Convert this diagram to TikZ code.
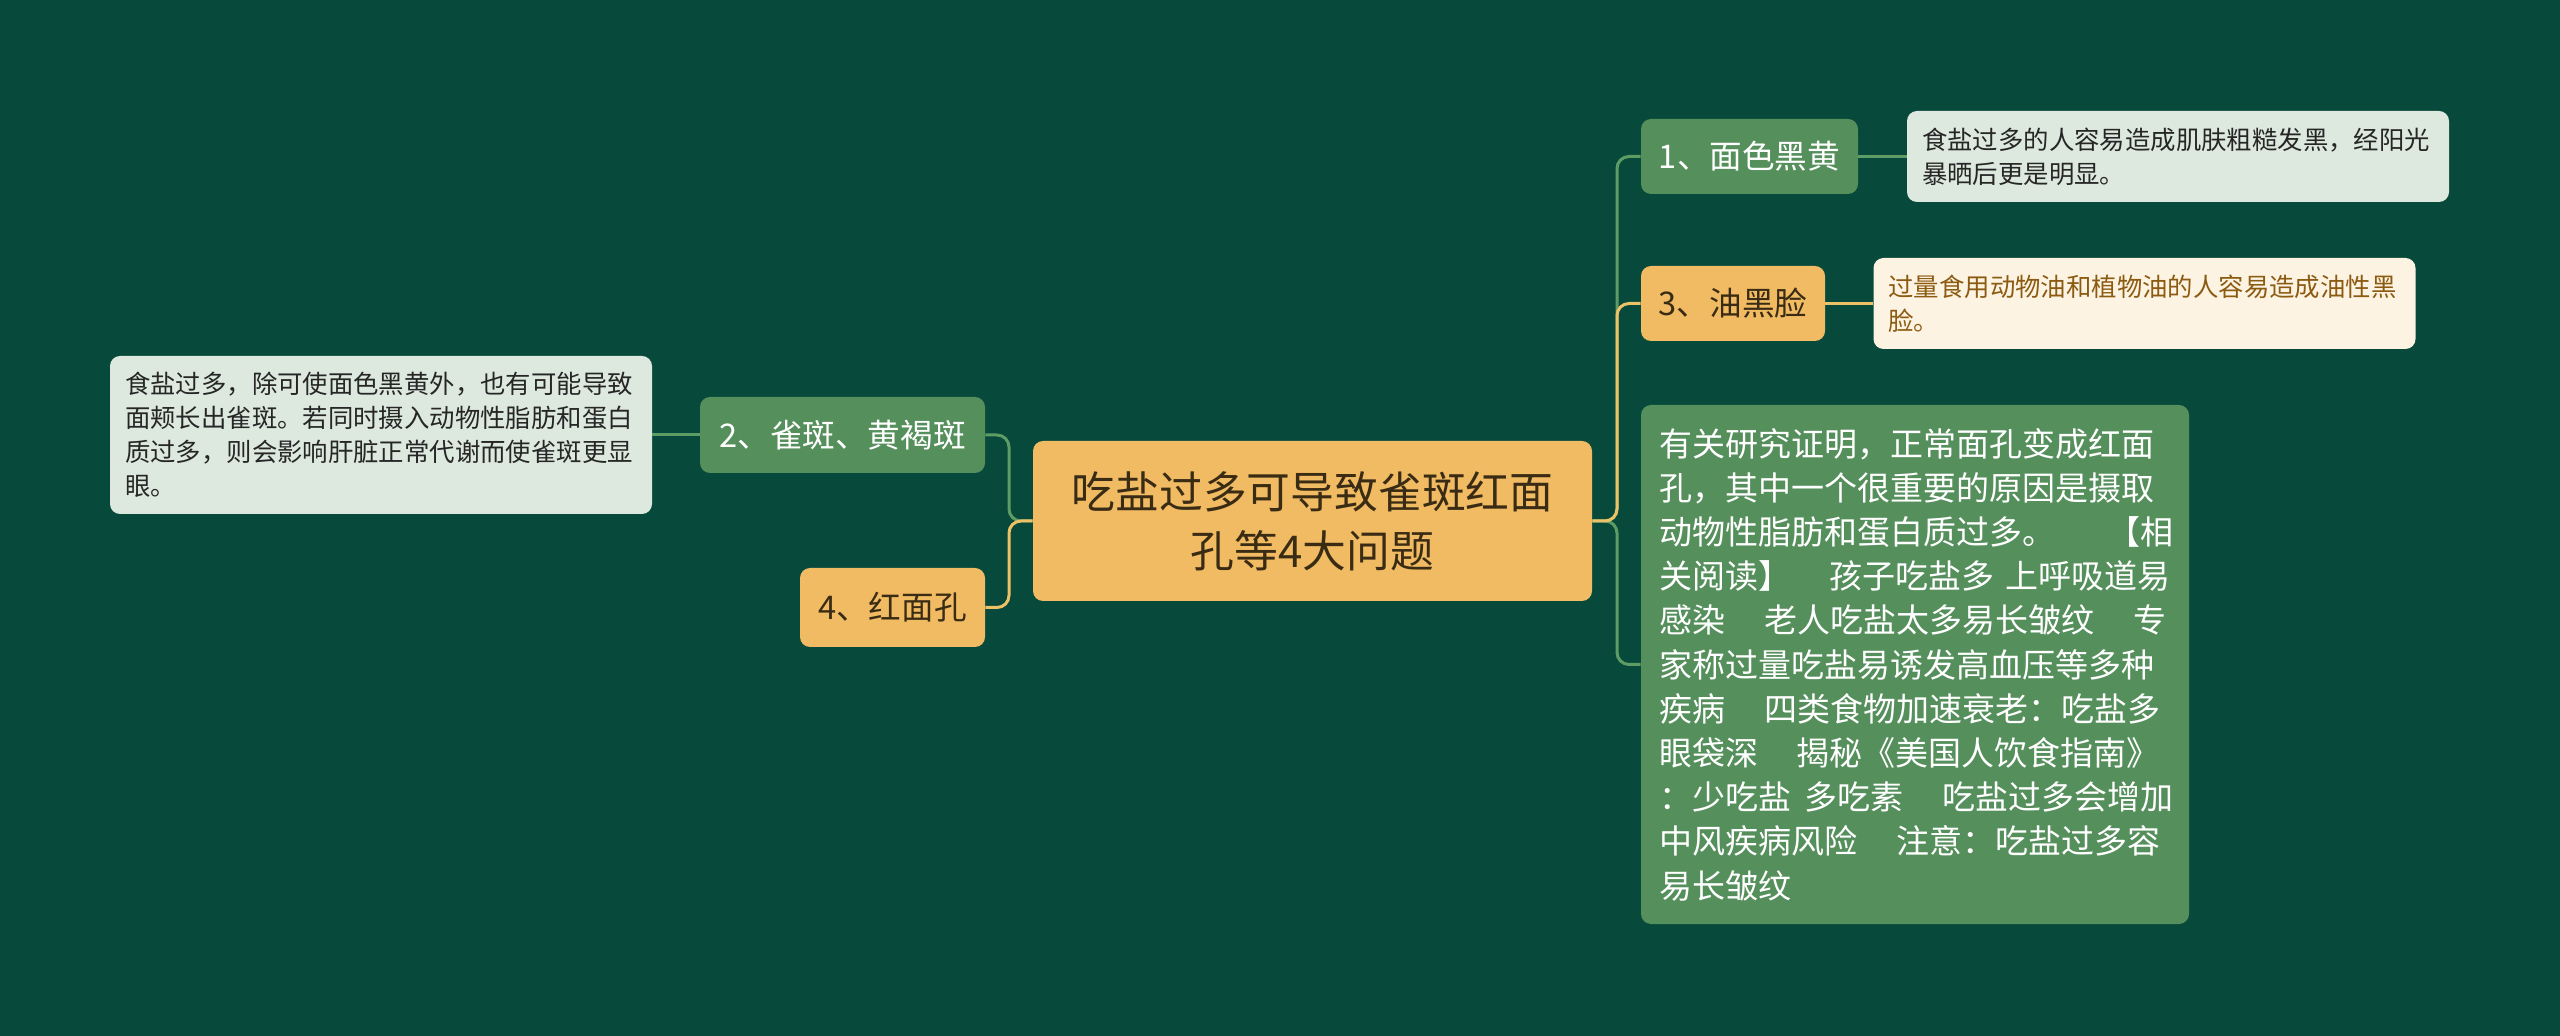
\documentclass[tikz,border=0pt]{standalone}
\usepackage{fontspec}
\setmainfont{Noto Sans CJK SC}
\definecolor{bg}{HTML}{07493A}
\definecolor{gnode}{HTML}{558F5C}
\definecolor{onode}{HTML}{F0BB62}
\definecolor{ldesc}{HTML}{DDE9DF}
\definecolor{cdesc}{HTML}{FDF3E2}
\definecolor{gline}{HTML}{5E9C66}
\definecolor{oline}{HTML}{EDC266}
\definecolor{dtext}{HTML}{262626}
\definecolor{otext}{HTML}{3A2C14}
\definecolor{btext}{HTML}{8C5B12}
\begin{document}
\begin{tikzpicture}[x=0.5pt,y=-0.5pt,
  box/.style={rounded corners=5pt, inner sep=0pt, align=center},
  gbox/.style={box, fill=gnode, text=white, font=\fontsize{16.3}{20}\selectfont},
  obox/.style={box, fill=onode, text=otext, font=\fontsize{16.3}{20}\selectfont},
  dbox/.style={box, align=left, inner xsep=7.5pt, text width=256pt, font=\fontsize{12.7}{17}\selectfont},
  gl/.style={draw=gline, line width=1.5pt, rounded corners=6pt},
  ol/.style={draw=oline, line width=1.5pt, rounded corners=6pt}]
\fill[bg] (0,0) rectangle (2560,1036);
\useasboundingbox (0,0) rectangle (2560,1036);

\node[box, fill=onode, text=otext, minimum width=279.5pt, minimum height=80pt,
  font=\fontsize{21.9}{29.4}\selectfont] (c) at (1312.5,521) {吃盐过多可导致雀斑红面\\孔等4大问题};

\node[gbox, minimum width=108.5pt, minimum height=37.5pt] (n1) at (1749.5,156.5) {1、面色黑黄};
\node[dbox, fill=ldesc, text=dtext, minimum height=45.5pt] (d1) at (2178,156.5)
  {食盐过多的人容易造成肌肤粗糙发黑，经阳光\\暴晒后更是明显。};

\node[obox, minimum width=92pt, minimum height=37.5pt] (n3) at (1733,303.5) {3、油黑脸};
\node[dbox, fill=cdesc, text=btext, minimum height=45.5pt] (d3) at (2144.5,303.5)
  {过量食用动物油和植物油的人容易造成油性黑\\脸。};

\node[box, fill=gnode, text=white, align=left, inner xsep=9pt, text width=256pt,
  minimum height=259.5pt, font=\fontsize{16.5}{22.1}\selectfont] (lg) at (1915,664.5)
  {有关研究证明，正常面孔变成红面\\
   孔，其中一个很重要的原因是摄取\\
   动物性脂肪和蛋白质过多。\hspace*{1.6em}【相\\
   关阅读】\hspace*{1.16em}孩子吃盐多\hspace*{0.35em}上呼吸道易\\
   感染\hspace*{1.2em}老人吃盐太多易长皱纹\hspace*{1.18em}专\\
   家称过量吃盐易诱发高血压等多种\\
   疾病\hspace*{1.2em}四类食物加速衰老：吃盐多\\
   眼袋深\hspace*{1.16em}揭秘《美国人饮食指南》\\
   ：少吃盐\hspace*{0.4em}多吃素\hspace*{1.2em}吃盐过多会增加\\
   中风疾病风险\hspace*{1.2em}注意：吃盐过多容\\
   易长皱纹};

\node[gbox, minimum width=142.5pt, minimum height=38pt] (n2) at (842.5,435) {2、雀斑、黄褐斑};
\node[dbox, fill=ldesc, text=dtext, minimum height=79pt] (d2) at (381,435)
  {食盐过多，除可使面色黑黄外，也有可能导致\\面颊长出雀斑。若同时摄入动物性脂肪和蛋白\\质过多，则会影响肝脏正常代谢而使雀斑更显\\眼。};

\node[obox, minimum width=92.5pt, minimum height=39.5pt] (n4) at (892.5,607.5) {4、红面孔};

\coordinate (rj) at (1617,521);
\coordinate (lj) at (1009,521);
\draw[gl] (c.east) -- (rj) |- (n1.west);
\draw[gl] (c.east) -- (rj) |- (lg.west);
\draw[ol] (c.east) -- (rj) |- (n3.west);
\draw[gl] (c.west) -- (lj) |- (n2.east);
\draw[ol] (c.west) -- (lj) |- (n4.east);
\draw[gl] (n1.east) -- (d1.west);
\draw[ol] (n3.east) -- (d3.west);
\draw[gl] (n2.west) -- (d2.east);
\end{tikzpicture}
\end{document}
